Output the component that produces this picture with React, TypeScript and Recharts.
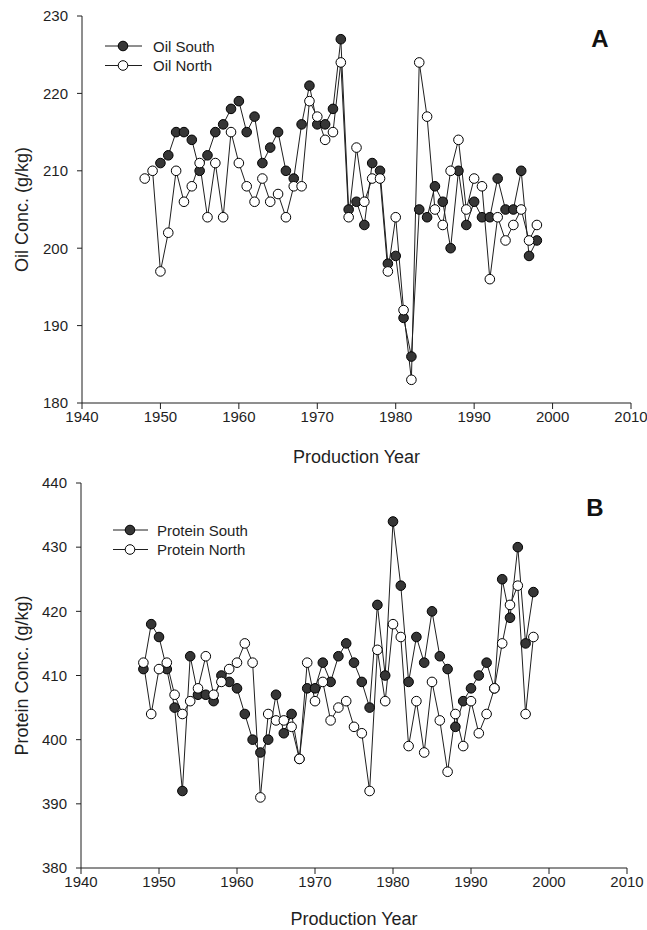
import { LineChart, Line, XAxis, YAxis, Legend } from 'recharts';

const years = [
  1948, 1949, 1950, 1951, 1952, 1953, 1954, 1955, 1956, 1957,
  1958, 1959, 1960, 1961, 1962, 1963, 1964, 1965, 1966, 1967,
  1968, 1969, 1970, 1971, 1972, 1973, 1974, 1975, 1976, 1977,
  1978, 1979, 1980, 1981, 1982, 1983, 1984, 1985, 1986, 1987,
  1988, 1989, 1990, 1991, 1992, 1993, 1994, 1995, 1996, 1997,
  1998,
];

const oilSouth = [
  null, null, 211, 212, 215, 215, 214, 210, 212, 215,
  216, 218, 219, 215, 217, 211, 213, 215, 210, 209,
  216, 221, 216, 216, 218, 227, 205, 206, 203, 211,
  210, 198, 199, 191, 186, 205, 204, 208, 206, 200,
  210, 203, 206, 204, 204, 209, 205, 205, 210, 199,
  201,
];
const oilNorth = [
  209, 210, 197, 202, 210, 206, 208, 211, 204, 211,
  204, 215, 211, 208, 206, 209, 206, 207, 204, 208,
  208, 219, 217, 214, 215, 224, 204, 213, 206, 209,
  209, 197, 204, 192, 183, 224, 217, 205, 203, 210,
  214, 205, 209, 208, 196, 204, 201, 203, 205, 201,
  203,
];

const proteinSouth = [
  411, 418, 416, 411, 405, 392, 413, 407, 407, 406,
  410, 409, 408, 404, 400, 398, 400, 407, 401, 404,
  397, 408, 408, 412, 409, 413, 415, 412, 409, 405,
  421, 410, 434, 424, 409, 416, 412, 420, 413, 411,
  402, 406, 408, 410, 412, 408, 425, 419, 430, 415,
  423,
];
const proteinNorth = [
  412, 404, 411, 412, 407, 404, 406, 408, 413, 407,
  409, 411, 412, 415, 412, 391, 404, 403, 403, 402,
  397, 412, 406, 409, 403, 405, 406, 402, 401, 392,
  414, 406, 418, 416, 399, 406, 398, 409, 403, 395,
  404, 399, 406, 401, 404, 408, 415, 421, 424, 404,
  416,
];

const yearTicks = [1940, 1950, 1960, 1970, 1980, 1990, 2000, 2010];
const oilTicks = [180, 190, 200, 210, 220, 230];
const proteinTicks = [380, 390, 400, 410, 420, 430, 440];

const FONT = '"Liberation Sans", Arial, Helvetica, sans-serif';
const INK = '#1f1f1f';
const DARK = '#363636';

const oilData = years.map((year, i) => ({ year, south: oilSouth[i], north: oilNorth[i] }));
const proteinData = years.map((year, i) => ({ year, south: proteinSouth[i], north: proteinNorth[i] }));

// small legend: line segment + marker + name, two rows
const makeLegend = (names: string[], lineX0: number, markX: number, lineX1: number, textX: number, rowGap: number) => () => (
  <svg width={220} height={50} style={{ display: 'block', overflow: 'visible' }}>
    {names.map((name, i) => {
      const y = 12 + i * rowGap;
      return (
        <g key={name}>
          <line x1={lineX0} x2={lineX1} y1={y} y2={y} stroke={INK} strokeWidth={1} />
          <circle cx={markX} cy={y} r={4.8} fill={i === 0 ? DARK : '#fff'} stroke="#000" strokeWidth={1} />
          <text x={textX} y={y} dominantBaseline="central" fontFamily={FONT} fontSize={15} fill={INK}>
            {name}
          </text>
        </g>
      );
    })}
  </svg>
);

function Panel(props: any) {
  const { top, height, data, yDomain, yTicks, yTitle, names, letter, margin, yAxisWidth, legendLeft, legendTop, legend, letterX, letterY, xTitleDy } = props;
  const tickStyle = { fontFamily: FONT, fontSize: 15, fill: INK };
  return (
    <div style={{ position: 'absolute', left: 0, top, width: 647, height }}>
      <LineChart width={647} height={height} data={data} margin={margin}>
        <XAxis
          dataKey="year"
          type="number"
          domain={[1940, 2010]}
          ticks={yearTicks}
          interval={0}
          height={height - 403}
          tickSize={6}
          tickMargin={2}
          tick={tickStyle}
          stroke={INK}
          label={{
            value: 'Production Year',
            content: ({ viewBox }: any) => (
              <text
                x={viewBox.x + viewBox.width / 2}
                y={viewBox.y + xTitleDy}
                textAnchor="middle"
                dominantBaseline="central"
                fontFamily={FONT}
                fontSize={18}
                fill={INK}
              >
                Production Year
              </text>
            ),
          }}
        />
        <XAxis xAxisId="top" orientation="top" type="number" domain={[1940, 2010]} height={0} tick={false} tickLine={false} stroke="#555" />
        <YAxis
          type="number"
          domain={yDomain}
          ticks={yTicks}
          interval={0}
          width={yAxisWidth}
          tickSize={5}
          tickMargin={9}
          tick={tickStyle}
          stroke={INK}
          label={{
            value: yTitle,
            content: ({ viewBox }: any) => {
              const cx = viewBox.x + 14;
              const cy = viewBox.y + viewBox.height / 2;
              return (
                <text
                  x={cx}
                  y={cy}
                  transform={`rotate(-90 ${cx} ${cy})`}
                  textAnchor="middle"
                  dominantBaseline="central"
                  fontFamily={FONT}
                  fontSize={18}
                  fill={INK}
                >
                  {yTitle}
                </text>
              );
            },
          }}
        />
        <YAxis yAxisId="right" orientation="right" type="number" domain={yDomain} width={0} tick={false} tickLine={false} stroke="#555" />
        <Legend
          layout="vertical"
          align="center"
          verticalAlign="middle"
          content={legend}
          wrapperStyle={{ left: legendLeft, top: legendTop, width: 220, height: 50 }}
        />
        <Line
          dataKey="south"
          name={names[0]}
          stroke={INK}
          strokeWidth={1}
          dot={{ r: 4.8, fill: DARK, stroke: '#000', strokeWidth: 1 }}
          isAnimationActive={false}
        />
        <Line
          dataKey="north"
          name={names[1]}
          stroke={INK}
          strokeWidth={1}
          dot={{ r: 4.8, fill: '#fff', stroke: '#000', strokeWidth: 1 }}
          isAnimationActive={false}
        />
      </LineChart>
      <div
        style={{
          position: 'absolute',
          left: letterX,
          top: letterY,
          transform: 'translate(-50%, -50%)',
          fontFamily: FONT,
          fontWeight: 'bold',
          fontSize: 24,
          color: '#111',
          lineHeight: 1,
        }}
      >
        {letter}
      </div>
    </div>
  );
}

export default function App() {
  return (
    <div style={{ position: 'absolute', left: 0, top: 0, width: 647, height: 930, background: '#fff' }}>
      <Panel
        top={0}
        height={474}
        data={oilData}
        yDomain={[180, 230]}
        yTicks={oilTicks}
        yTitle="Oil Conc. (g/kg)"
        names={['Oil South', 'Oil North']}
        letter="A"
        margin={{ top: 16, right: 16, bottom: 0, left: 8 }}
        yAxisWidth={74}
        legendLeft={100}
        legendTop={33.5}
        legend={makeLegend(['Oil South', 'Oil North'], 5, 23, 42, 53, 19.5)}
        letterX={600}
        letterY={39}
        xTitleDy={54}
      />
      <Panel
        top={465}
        height={465}
        data={proteinData}
        yDomain={[380, 440]}
        yTicks={proteinTicks}
        yTitle="Protein Conc. (g/kg)"
        names={['Protein South', 'Protein North']}
        letter="B"
        margin={{ top: 18, right: 20, bottom: 0, left: 8 }}
        yAxisWidth={73}
        legendLeft={108}
        legendTop={53}
        legend={makeLegend(['Protein South', 'Protein North'], 5, 22, 40, 49, 19.5)}
        letterX={595}
        letterY={43}
        xTitleDy={51}
      />
    </div>
  );
}
